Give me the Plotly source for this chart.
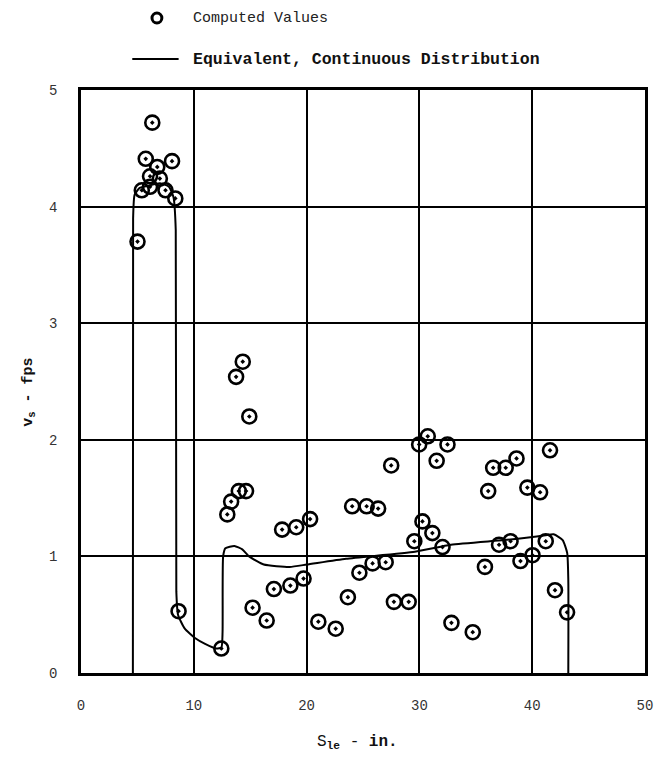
import plotly.graph_objects as go

# Computed values: shear velocity v_s (fps) against S_le (in.)
computed_x = [
    6.32, 5.74, 6.76, 8.07, 6.12, 6.99, 5.39, 6.12, 7.49, 8.36, 5.01,
    14.34, 13.75, 14.92, 13.99, 14.63, 13.31, 12.97, 17.83, 19.08, 20.31,
    17.10, 18.56, 19.73, 15.21, 16.46, 12.44, 8.65, 21.04, 22.58,
    30.74, 29.98, 32.49, 31.53, 27.50, 41.58, 38.61, 37.65, 36.54, 36.10,
    39.57, 40.70, 24.04, 25.32, 26.34, 30.27, 31.15, 29.55, 32.05, 37.06,
    38.08, 41.20, 38.96, 40.03, 35.81, 27.01, 25.85, 24.68, 23.66, 27.74,
    29.05, 32.84, 34.73, 42.02, 43.09,
]
computed_y = [
    4.72, 4.41, 4.34, 4.39, 4.26, 4.24, 4.14, 4.17, 4.14, 4.07, 3.70,
    2.67, 2.54, 2.20, 1.56, 1.56, 1.47, 1.36, 1.23, 1.25, 1.32,
    0.72, 0.75, 0.81, 0.56, 0.45, 0.21, 0.53, 0.44, 0.38,
    2.03, 1.96, 1.96, 1.82, 1.78, 1.91, 1.84, 1.76, 1.76, 1.56,
    1.59, 1.55, 1.43, 1.43, 1.41, 1.30, 1.20, 1.13, 1.08, 1.10,
    1.13, 1.13, 0.96, 1.01, 0.91, 0.95, 0.94, 0.86, 0.65, 0.61,
    0.61, 0.43, 0.35, 0.71, 0.52,
]

# Equivalent, continuous distribution
equiv_x = [
    4.60, 4.62, 4.75, 5.20, 6.00, 7.00, 7.80, 8.20, 8.40, 8.45, 8.60,
    9.20, 10.10, 11.00, 12.00, 12.45, 12.55, 12.60, 12.80, 13.60, 14.30,
    14.90, 16.20, 18.50, 20.00, 23.50, 29.60, 32.80, 37.50, 40.40, 41.90,
    42.70, 43.10, 43.20, 43.20,
]
equiv_y = [
    0.00, 3.90, 4.10, 4.16, 4.18, 4.20, 4.17, 4.08, 3.80, 0.70, 0.50,
    0.38, 0.30, 0.25, 0.21, 0.22, 0.35, 1.00, 1.07, 1.09, 1.06,
    1.00, 0.93, 0.91, 0.93, 0.98, 1.04, 1.10, 1.14, 1.17, 1.19,
    1.14, 1.03, 0.80, 0.00,
]

x_ticks = [0, 10, 20, 30, 40, 50]
y_ticks = [0, 1, 2, 3, 4, 5]

FONT = "Liberation Mono"

fig = go.Figure()

fig.add_trace(go.Scatter(
    x=equiv_x, y=equiv_y, mode="lines",
    line=dict(color="black", width=2, shape="spline", smoothing=0.5),
    name="Equivalent, Continuous Distribution", showlegend=False,
    hoverinfo="skip",
))

fig.add_trace(go.Scatter(
    x=computed_x, y=computed_y, mode="markers",
    marker=dict(symbol="circle-open-dot", size=14, color="black",
                line=dict(color="black", width=2.6)),
    name="Computed Values", showlegend=False,
))

axis_common = dict(
    showgrid=True, gridcolor="black", gridwidth=2,
    showline=True, linecolor="black", linewidth=2.5, mirror=True,
    zeroline=False, ticks="", tickfont=dict(family=FONT, size=14, color="#333"),
)

fig.update_xaxes(range=[0, 50], tickvals=x_ticks, ticklabelstandoff=17, **axis_common)
fig.update_yaxes(range=[0, 5], tickvals=y_ticks, ticklabelstandoff=18, **axis_common)

# Legend drawn above the plot
shapes = [
    dict(type="circle", xref="paper", yref="paper",
         x0=(153 - 81) / 572, x1=(163 - 81) / 572,
         y0=(673 - 23) / 583, y1=(673 - 13) / 583,
         line=dict(color="black", width=3)),
    dict(type="line", xref="paper", yref="paper",
         x0=(133 - 81) / 572, x1=(180 - 81) / 572,
         y0=(673 - 59) / 583, y1=(673 - 59) / 583,
         line=dict(color="black", width=2)),
]

annotations = [
    dict(text="Computed Values", xref="paper", yref="paper",
         x=(193 - 81) / 572, y=(673 - 18) / 583, xanchor="left", yanchor="middle",
         showarrow=False, font=dict(family=FONT, size=15, color="#222")),
    dict(text="<b>Equivalent, Continuous Distribution</b>", xref="paper", yref="paper",
         x=(193 - 81) / 572, y=(673 - 59) / 583, xanchor="left", yanchor="middle",
         showarrow=False, font=dict(family=FONT, size=16.5, color="#111")),
    dict(text="S<sub><b>le</b></sub> - <b>in.</b>", xref="paper", yref="paper",
         x=(361 - 81) / 572, y=(673 - 742) / 583, xanchor="center", yanchor="middle",
         showarrow=False, font=dict(family=FONT, size=16, color="#111")),
    dict(text="<b>v<sub>s</sub> - fps</b>", xref="paper", yref="paper",
         x=(28 - 81) / 572, y=(673 - 392) / 583, xanchor="center", yanchor="middle",
         textangle=-90, showarrow=False, font=dict(family=FONT, size=15, color="#111")),
]

fig.update_layout(
    width=663, height=758,
    margin=dict(l=81, r=10, t=90, b=85),
    paper_bgcolor="white", plot_bgcolor="white",
    shapes=shapes, annotations=annotations,
    showlegend=False,
)

fig.write_html("out.html")
